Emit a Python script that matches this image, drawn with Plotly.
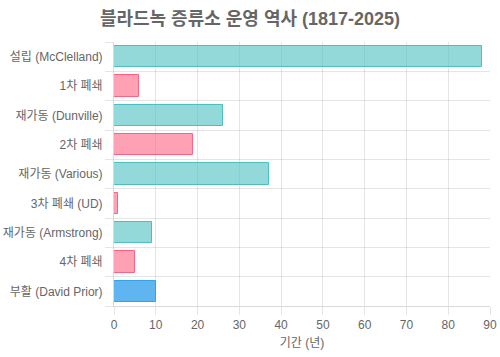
import plotly.graph_objects as go

categories = ["설립 (McClelland)", "1차 폐쇄", "재가동 (Dunville)", "2차 폐쇄", "재가동 (Various)",
              "3차 폐쇄 (UD)", "재가동 (Armstrong)", "4차 폐쇄", "부활 (David Prior)"]
durations = [88, 6, 26, 19, 37, 1, 9, 5, 10]
kinds = ["op", "closed", "op", "closed", "op", "closed", "op", "closed", "revival"]
x_ticks = [0, 10, 20, 30, 40, 50, 60, 70, 80, 90]

fill = {"op": "rgba(75,192,192,0.6)", "closed": "rgba(255,99,132,0.6)", "revival": "rgba(54,162,235,0.8)"}
line = {"op": "rgb(75,192,192)", "closed": "rgb(255,99,132)", "revival": "rgb(54,162,235)"}

idx = list(range(len(categories)))
fig = go.Figure(go.Bar(
    x=durations, y=idx, orientation="h", width=0.72,
    marker=dict(color=[fill[k] for k in kinds], line=dict(color=[line[k] for k in kinds], width=1)),
    hoverinfo="x+text", text=categories, textposition="none",
))

font = "Liberation Sans, Arial, Noto Sans CJK KR, sans-serif"
grid = "rgba(0,0,0,0.1)"
fig.update_layout(
    width=500, height=357,
    margin=dict(l=114, r=10, t=42, b=51, autoexpand=False),
    paper_bgcolor="white", plot_bgcolor="white",
    font=dict(family=font, size=12, color="#666"),
    title=dict(text="<b>블라드녹 증류소 운영 역사 (1817-2025)</b>", x=0.5, xanchor="center",
               y=1 - 19 / 357, yanchor="middle", font=dict(size=18, color="#666"), automargin=False),
    showlegend=False,
    bargap=0,
)
fig.update_xaxes(
    range=[0, 90], tickvals=x_ticks, showgrid=True, gridcolor=grid, gridwidth=1,
    ticks="outside", ticklen=8, tickcolor=grid, showline=True, linecolor="rgba(0,0,0,0.15)",
    zeroline=False, mirror=False, automargin=False,
    title=dict(text="기간 (년)", font=dict(size=12, color="#666"), standoff=7),
)
fig.update_yaxes(
    range=[len(categories) - 0.5, -0.5], tickvals=idx, ticktext=categories,
    showgrid=False, ticks="", showline=True, linecolor="rgba(0,0,0,0.15)", zeroline=False,
    ticklabelstandoff=8, automargin=False,
    minor=dict(tickvals=[i - 0.5 for i in range(len(categories) + 1)], ticks="outside", ticklen=8,
               tickcolor=grid, showgrid=True, gridcolor=grid, gridwidth=1),
)
fig.write_html("out.html", config={"displayModeBar": False},
               post_script="document.body.style.margin='0';document.body.style.overflow='hidden';")
